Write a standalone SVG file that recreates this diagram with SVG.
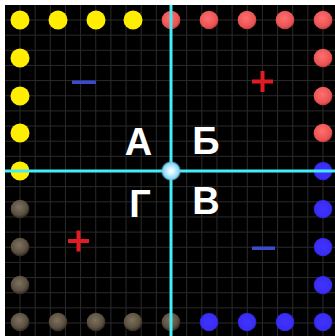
<svg xmlns="http://www.w3.org/2000/svg" width="335" height="336" viewBox="0 0 335 336">
<defs>
<radialGradient id="gRed" cx="0.45" cy="0.4" r="0.6"><stop offset="0" stop-color="#ff7070"/><stop offset="0.8" stop-color="#e95252"/><stop offset="1" stop-color="#b83a3a"/></radialGradient>
<radialGradient id="gMoon" cx="0.45" cy="0.4" r="0.6"><stop offset="0" stop-color="#7d7160"/><stop offset="0.7" stop-color="#5b4f3f"/><stop offset="1" stop-color="#2f281f"/></radialGradient>
<radialGradient id="gBlue" cx="0.5" cy="0.5" r="0.5"><stop offset="0" stop-color="#3f33ff"/><stop offset="0.85" stop-color="#3a2cf2"/><stop offset="1" stop-color="#2a20c0"/></radialGradient>
<radialGradient id="gCenter" cx="0.5" cy="0.5" r="0.5"><stop offset="0" stop-color="#ffffff"/><stop offset="0.4" stop-color="#c8f0ff"/><stop offset="0.8" stop-color="#85d4f5"/><stop offset="1" stop-color="#5ab8e0" stop-opacity="0.3"/></radialGradient>
</defs>
<style>
.grid line{stroke:#2a2a2a;stroke-width:1}
.y{fill:#ffee00}
.r{fill:url(#gRed)}
.m{fill:url(#gMoon)}
.b{fill:url(#gBlue)}
.lbl{font-family:"Liberation Sans",Arial,sans-serif;font-weight:bold;font-size:38px;fill:#ffffff;text-anchor:middle}
.axis{stroke:#45eef4;stroke-width:3}
.plus{fill:#e31b23}
.minus{fill:#3a4ccc}
</style>
<rect x="0" y="0" width="335" height="336" fill="#ffffff"/>
<rect x="5" y="5" width="330" height="331" fill="#000000"/>
<g class="grid" id="grid">
<line x1="20" y1="5" x2="20" y2="336"/><line x1="35.15" y1="5" x2="35.15" y2="336"/><line x1="50.3" y1="5" x2="50.3" y2="336"/><line x1="65.45" y1="5" x2="65.45" y2="336"/><line x1="80.6" y1="5" x2="80.6" y2="336"/><line x1="95.75" y1="5" x2="95.75" y2="336"/><line x1="110.9" y1="5" x2="110.9" y2="336"/><line x1="126.05" y1="5" x2="126.05" y2="336"/><line x1="141.2" y1="5" x2="141.2" y2="336"/><line x1="156.35" y1="5" x2="156.35" y2="336"/><line x1="186.65" y1="5" x2="186.65" y2="336"/><line x1="201.8" y1="5" x2="201.8" y2="336"/><line x1="216.95" y1="5" x2="216.95" y2="336"/><line x1="232.1" y1="5" x2="232.1" y2="336"/><line x1="247.25" y1="5" x2="247.25" y2="336"/><line x1="262.4" y1="5" x2="262.4" y2="336"/><line x1="277.55" y1="5" x2="277.55" y2="336"/><line x1="292.7" y1="5" x2="292.7" y2="336"/><line x1="307.85" y1="5" x2="307.85" y2="336"/><line x1="323" y1="5" x2="323" y2="336"/>
<line y1="20" x1="5" y2="20" x2="335"/><line y1="35.15" x1="5" y2="35.15" x2="335"/><line y1="50.3" x1="5" y2="50.3" x2="335"/><line y1="65.45" x1="5" y2="65.45" x2="335"/><line y1="80.6" x1="5" y2="80.6" x2="335"/><line y1="95.75" x1="5" y2="95.75" x2="335"/><line y1="110.9" x1="5" y2="110.9" x2="335"/><line y1="126.05" x1="5" y2="126.05" x2="335"/><line y1="141.2" x1="5" y2="141.2" x2="335"/><line y1="156.35" x1="5" y2="156.35" x2="335"/><line y1="186.65" x1="5" y2="186.65" x2="335"/><line y1="201.8" x1="5" y2="201.8" x2="335"/><line y1="216.95" x1="5" y2="216.95" x2="335"/><line y1="232.1" x1="5" y2="232.1" x2="335"/><line y1="247.25" x1="5" y2="247.25" x2="335"/><line y1="262.4" x1="5" y2="262.4" x2="335"/><line y1="277.55" x1="5" y2="277.55" x2="335"/><line y1="292.7" x1="5" y2="292.7" x2="335"/><line y1="307.85" x1="5" y2="307.85" x2="335"/><line y1="323" x1="5" y2="323" x2="335"/>
</g>
<g id="yellow-dots" class="y">
<circle cx="20" cy="20" r="9.5"/><circle cx="58" cy="20" r="9.5"/><circle cx="96" cy="20" r="9.5"/><circle cx="133" cy="20" r="9.5"/>
<circle cx="20" cy="58" r="9.5"/><circle cx="20" cy="96" r="9.5"/><circle cx="20" cy="133" r="9.5"/><circle cx="20" cy="171" r="9.5"/>
</g>
<g id="red-dots" class="r">
<circle cx="171" cy="20" r="9.3"/><circle cx="209" cy="20" r="9.3"/><circle cx="247" cy="20" r="9.3"/><circle cx="285" cy="20" r="9.3"/><circle cx="323" cy="20" r="9.3"/>
<circle cx="323" cy="58" r="9.3"/><circle cx="323" cy="96" r="9.3"/><circle cx="323" cy="133" r="9.3"/>
</g>
<g id="blue-dots" class="b">
<circle cx="323" cy="171" r="9.3"/><circle cx="323" cy="209" r="9.3"/><circle cx="323" cy="247" r="9.3"/><circle cx="323" cy="285" r="9.3"/><circle cx="323" cy="322" r="9.3"/>
<circle cx="209" cy="322" r="9.3"/><circle cx="247" cy="322" r="9.3"/><circle cx="285" cy="322" r="9.3"/>
</g>
<g id="moon-dots" class="m">
<circle cx="20" cy="209" r="9.3"/><circle cx="20" cy="247" r="9.3"/><circle cx="20" cy="285" r="9.3"/><circle cx="20" cy="322" r="9.3"/>
<circle cx="58" cy="322" r="9.3"/><circle cx="96" cy="322" r="9.3"/><circle cx="133" cy="322" r="9.3"/><circle cx="171" cy="322" r="9.3"/>
</g>
<g id="signs">
<rect class="minus" x="72" y="80.5" width="24" height="3.5"/>
<rect class="plus" x="252" y="79.5" width="21" height="4"/><rect class="plus" x="260.5" y="71" width="4" height="21"/>
<rect class="plus" x="68" y="239" width="21" height="4"/><rect class="plus" x="76.5" y="230.5" width="4" height="21"/>
<rect class="minus" x="252" y="246.5" width="23" height="3.5"/>
</g>
<g id="connectors">
<line class="axis" x1="171" y1="5" x2="171" y2="336"/>
<line class="axis" x1="5" y1="171" x2="335" y2="171"/>
</g>
<g id="center">
<circle cx="171" cy="171" r="10" fill="url(#gCenter)"/>
</g>
<g id="labels">
<text class="lbl" x="138.5" y="155">А</text>
<text class="lbl" x="206" y="154">Б</text>
<text class="lbl" x="140" y="217">Г</text>
<text class="lbl" x="206" y="214">В</text>
</g>
</svg>
